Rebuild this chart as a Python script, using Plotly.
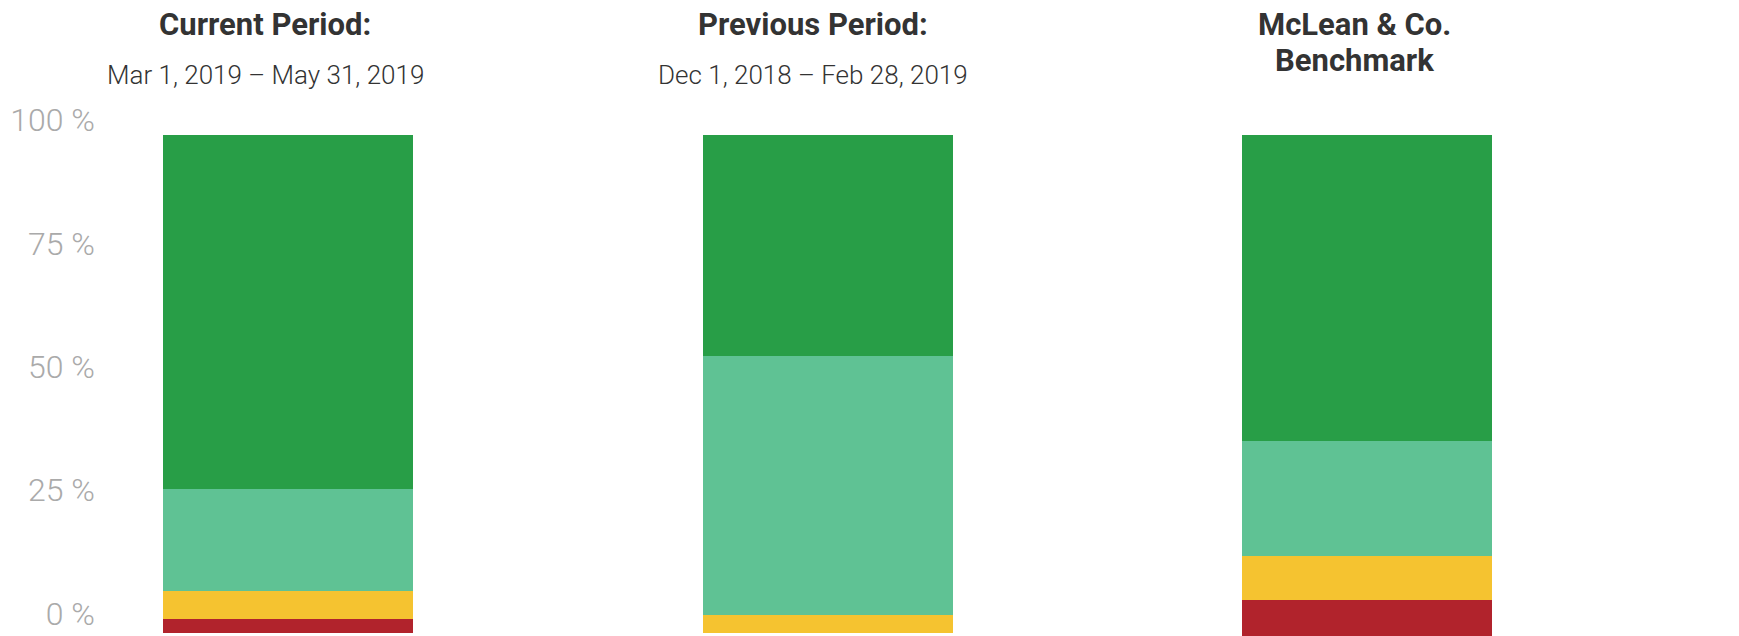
"""Stacked score-distribution bars: current vs previous period vs benchmark."""

import plotly.graph_objects as go

# categories (one bar each)
groups = ["Current Period", "Previous Period", "McLean & Co. Benchmark"]

# heading text above each bar
titles = ["Current Period:", "Previous Period:", "McLean & Co."]
subtitles = ["Mar 1, 2019 \u2013 May 31, 2019", "Dec 1, 2018 \u2013 Feb 28, 2019", "Benchmark"]

# segment shares in %, top segment first
strong = [71.1, 44.4, 61.4]
moderate = [20.5, 52.0, 23.1]
weak = [5.6, 3.6, 8.8]
poor = [2.8, 0.0, 7.5]

# y axis labels
tick_vals = [0, 25, 50, 75, 100]
tick_text = ["0 %", "25 %", "50 %", "75 %", "100 %"]

segments = [
    ("Strong", strong, "#289e47"),
    ("Moderate", moderate, "#5fc294"),
    ("Weak", weak, "#f5c330"),
    ("Poor", poor, "#b1232c"),
]

fig = go.Figure()

# label axis needs a trace to be drawn
fig.add_trace(go.Scatter(x=[groups[0]], y=[None], mode="markers",
                         showlegend=False, hoverinfo="skip"))

for name, vals, color in segments:
    fig.add_trace(go.Bar(
        x=groups, y=vals, name=name, yaxis="y2",
        marker=dict(color=color, line=dict(width=0)),
        width=0.4634,
    ))

# headings
bold = dict(family="Roboto", size=31, color="#333333", weight=700)
light = dict(family="Roboto", size=26, color="#333333", weight=300)
for i, g in enumerate(groups):
    shift = [-23, -15, -13][i]
    fig.add_annotation(x=g, xref="x", y=1.141, yref="paper", text=titles[i],
                       showarrow=False, font=bold, xshift=shift, yanchor="middle")
    fig.add_annotation(x=g, xref="x", y=1.0746 if i == 2 else 1.046, yref="paper",
                       text=subtitles[i], showarrow=False,
                       font=bold if i == 2 else light, xshift=shift, yanchor="middle")

# page body has an 8px margin, so margins are shifted to compensate
fig.update_layout(
    width=1739, height=636,
    margin=dict(l=92, r=108, t=92, b=8),
    barmode="stack", bargap=0,
    plot_bgcolor="white", paper_bgcolor="white",
    showlegend=False,
    xaxis=dict(range=[-0.3485, 2.504], showticklabels=False, showgrid=False,
               zeroline=False, showline=False, ticks="", automargin=False),
    yaxis=dict(range=[-4.54, 104.1], tickvals=tick_vals, ticktext=tick_text,
               showgrid=False, zeroline=False, showline=False, ticks="",
               ticklabelstandoff=4, automargin=False,
               tickfont=dict(family="Roboto", size=32, color="#aaaaaa", weight=300)),
    yaxis2=dict(range=[100.6, -7.03], overlaying="y", visible=False,
                showgrid=False, zeroline=False),
)

fig.write_html("out.html")
